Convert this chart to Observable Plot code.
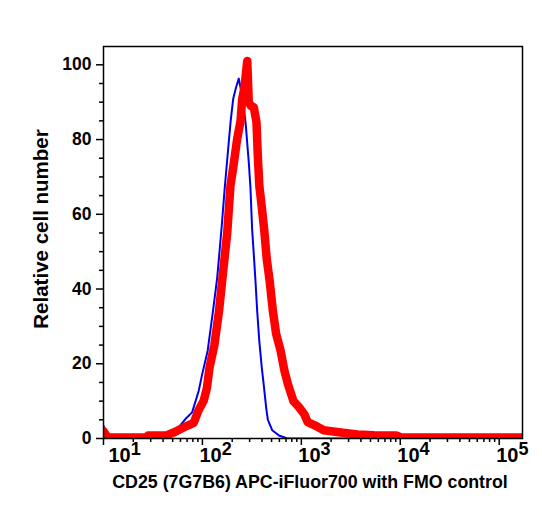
<!DOCTYPE html>
<html><head><meta charset="utf-8">
<script src="https://cdn.jsdelivr.net/npm/d3@7"></script>
<script src="https://cdn.jsdelivr.net/npm/@observablehq/plot@0.6"></script>
<style>
html,body{margin:0;padding:0;background:#fff;}
</style></head><body><div id="chart"></div>
<script>
// FMO control (blue) histogram: fluorescence intensity and relative cell number
const blueX = [10, 10.7, 27.5, 40.6, 50.1, 55.5, 67.3, 78.7, 91.8, 100, 113, 128, 141, 150, 158, 168, 180, 193, 205, 219, 233, 252, 273, 294, 306, 318, 331, 344, 358, 376, 398, 418, 442, 459, 508, 594, 721, 173780];
const blueY = [3.4, 0, 0, 0.7, 1.8, 2.5, 5.2, 7.0, 12.8, 17.5, 23.5, 34.2, 43, 51, 58, 67, 76, 85, 91, 94, 96.3, 91.7, 84.6, 74, 67, 56, 49, 42, 34, 26, 19, 14, 8, 5, 2.2, 0.8, 0, 0];
// CD25 stained (red) histogram
const redX = [10, 11, 26.9, 28.2, 43.9, 53.2, 70, 81.7, 91.2, 103, 111, 118, 132, 147, 158, 178, 192, 206, 224, 243, 252, 266, 284, 294, 309, 331, 352, 363, 376, 398, 422, 447, 478, 515, 556, 617, 676, 731, 832, 946, 1072, 1159, 1349, 1683, 2500, 3690, 5445, 9120, 10230, 173780];
const redY = [2.0, 0.3, 0.3, 0.8, 0.9, 1.8, 3.4, 4.2, 7.5, 10.1, 13.5, 19.0, 25.0, 34, 42, 55, 67.6, 73, 80, 85, 90.8, 94, 101, 90, 89, 88.6, 84.6, 75.6, 67.6, 62, 55.6, 48, 42.2, 34.2, 28, 23.5, 18, 14.6, 10, 8.4, 6.5, 4.4, 3.6, 2.2, 1.6, 1.1, 0.9, 0.8, 0.3, 0.3];

const xMajorTicks = [10, 100, 1000, 10000, 100000];
const yMajorTicks = [0, 20, 40, 60, 80, 100];
const xTitle = "CD25 (7G7B6) APC-iFluor700 with FMO control";
const yTitle = "Relative cell number";

const blue = blueX.map((x, i) => ({x, y: blueY[i]}));
const red = redX.map((x, i) => ({x, y: redY[i]}));

const xMax = 172000;
const xMinor = [];
for (const d of xMajorTicks) for (let k = 2; k <= 9; k++) if (d * k < xMax) xMinor.push(d * k);
const yMinor = d3.range(5, 105, 5).filter(v => v % 20 !== 0);

const font = "'Liberation Sans', Arial, Helvetica, sans-serif";

const svg = Plot.plot({
  width: 542, height: 510,
  marginLeft: 103, marginRight: 20, marginTop: 46, marginBottom: 72,
  style: {fontFamily: font, fontWeight: "bold", background: "white", color: "black"},
  x: {type: "log", domain: [10, xMax], label: null},
  y: {domain: [0, 104.9], label: null},
  marks: [
    Plot.line(blue, {x: "x", y: "y", stroke: "#0000ee", strokeWidth: 2, clip: true}),
    Plot.line(red, {x: "x", y: "y", stroke: "#ff0000", strokeWidth: 8.5, clip: true}),
    Plot.axisX({ticks: xMinor, tickSize: 4, tickFormat: () => "", label: null, strokeWidth: 1.5}),
    Plot.axisX({ticks: xMajorTicks, tickSize: 7, tickPadding: 2, fontSize: 20, strokeWidth: 1.5,
      tickFormat: d => "10^" + Math.round(Math.log10(d)), label: null}),
    Plot.axisY({ticks: yMinor, tickSize: 4, tickFormat: () => "", label: null, strokeWidth: 1.5}),
    Plot.axisY({ticks: yMajorTicks, tickSize: 7, tickPadding: 5, fontSize: 17.5, label: null, strokeWidth: 1.5}),
    Plot.frame({stroke: "black", strokeWidth: 1.5})
  ]
});

const s = d3.select(svg);
s.selectAll('g[aria-label="x-axis tick label"] text').each(function() {
  const t = this.textContent;
  if (!t.includes("^")) return;
  const [b, e] = t.split("^");
  const sel = d3.select(this);
  sel.text(null).attr("text-anchor", "start").attr("dx", e === "1" ? 5 : -3);
  sel.append("tspan").text(b);
  sel.append("tspan").attr("dy", "-0.4em").attr("font-size", "18px").text(e);
});

s.append("text")
  .attr("x", 310).attr("y", 488)
  .attr("text-anchor", "middle")
  .attr("font-family", font).attr("font-weight", "bold").attr("font-size", 17.8)
  .attr("fill", "black")
  .text(xTitle);

s.append("text")
  .attr("transform", "translate(48,229) rotate(-90)")
  .attr("text-anchor", "middle")
  .attr("font-family", font).attr("font-weight", "bold").attr("font-size", 20.5)
  .attr("fill", "black")
  .text(yTitle);

document.getElementById("chart").appendChild(svg);
</script>
</body></html>
